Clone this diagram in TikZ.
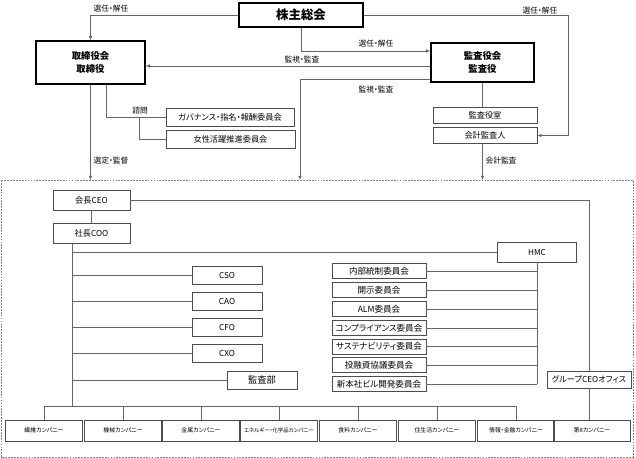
\documentclass[tikz,border=0pt]{standalone}
\usepackage{fontspec}
\newfontfamily\jp[RawFeature=+palt]{Noto Sans CJK JP}
\usetikzlibrary{arrows.meta, positioning, calc}

\begin{document}
\begin{tikzpicture}[x=0.03cm, y=-0.03cm,
  >={Latex[length=3.5pt,width=3pt]},
  line/.style={draw=black!60, line width=0.6pt},
  box/.style={draw=black!70, line width=0.6pt, inner sep=0pt, align=center, font=\jp\fontsize{7}{8}\selectfont},
  bigbox/.style={draw=black, line width=1.2pt, inner sep=0pt, align=center, font=\jp\bfseries\fontsize{8}{10.5}\selectfont},
  lbl/.style={inner sep=0pt, font=\jp\fontsize{6.6}{7}\selectfont},
  cxo/.style={box, minimum width=2.1cm, minimum height=0.54cm},
  iinkai/.style={box, minimum width=2.82cm, minimum height=0.45cm, font=\jp\fontsize{7.3}{8}\selectfont},
  company/.style={box, minimum width=2.31cm, minimum height=0.63cm, font=\jp\fontsize{5}{6}\selectfont}]
\useasboundingbox (0,0) rectangle (636,458);

% Shareholders and boards
\node[bigbox, minimum width=3.72cm, minimum height=0.72cm, font=\jp\bfseries\fontsize{10.6}{12}\selectfont] (kabunushi) at (301,15) {株主総会};
\node[bigbox, minimum width=3.27cm, minimum height=1.29cm] (torishimari) at (90.5,62.5) {取締役会\\取締役};
\node[bigbox, minimum width=3.09cm, minimum height=1.17cm] (kansayaku) at (482.5,62.5) {監査役会\\監査役};
\node[box, minimum width=3.12cm, minimum height=0.48cm] (shitsu) at (485,115) {監査役室};
\node[box, minimum width=3.12cm, minimum height=0.5cm] (kaikei) at (485,135.5) {会計監査人};
\node[box, minimum width=3.84cm, minimum height=0.54cm] (governance) at (230,117) {ガバナンス・指名・報酬委員会};
\node[box, minimum width=3.87cm, minimum height=0.54cm] (josei) at (230.5,139) {女性活躍推進委員会};

% Dashed frame of the executive organisation
\draw[draw=black!50, line width=0.5pt, dash pattern=on 1.5pt off 1pt] (1,180) rectangle (633,457);
\coordinate (frametop) at (0,180);

% Connectors between boards
\draw[line, ->] (kabunushi.west) -| (torishimari.north);
\draw[line, ->] (kabunushi.south) |- (kansayaku.west |- 0,51);
\draw[line, ->] (kabunushi.east) -| ($(kaikei.east)+(31,0)$) -- (kaikei.east);
\draw[line, ->] (kansayaku.west |- 0,66) -- (torishimari.east |- 0,66);
\draw[line, ->] (kansayaku.west |- 0,79) -| (frametop -| 300,0);
\draw[line, ->] (torishimari.south) -- (torishimari.south |- frametop);
\draw[line, ->] (kaikei.south -| kansayaku.south) -- (kansayaku.south |- frametop);
\draw[line] (kansayaku.south) -- (kansayaku.south |- shitsu.north);
\draw[line] (torishimari.south -| 106,0) |- (governance.west);
\draw[line] (governance.west -| 139,0) |- (josei.west);

% Connector labels
\node[lbl] (l-sennin1) at (111,9) {選任・解任};
\node[lbl] (l-sennin2) at (376,44) {選任・解任};
\node[lbl] (l-sennin3) at (540,11) {選任・解任};
\node[lbl] (l-kanshi1) at (302,60) {監視・監査};
\node[lbl] (l-kanshi2) at (376,90) {監視・監査};
\node[lbl] (l-shimon) at (140,111) {諮問};
\node[lbl] (l-sentei) at (111,161) {選定・監督};
\node[lbl] (l-kaikei) at (501,161) {会計監査};

% Executives
\node[box, minimum width=2.31cm, minimum height=0.6cm] (ceo) at (91.5,200) {会長CEO};
\node[box, minimum width=2.31cm, minimum height=0.58cm] (coo) at (91.5,233.5) {社長COO};
\node[box, minimum width=2.37cm, minimum height=0.6cm] (hmc) at (537,252) {HMC};
\node[cxo] (cso) at (227,275) {CSO};
\node[cxo] (cao) at (227,301) {CAO};
\node[cxo] (cfo) at (227,327) {CFO};
\node[cxo] (cxo) at (227,353.5) {CXO};
\node[cxo, font=\jp\fontsize{7.9}{9}\selectfont] (kansabu) at (262,380) {監査部};
\node[box, minimum width=2.52cm, minimum height=0.51cm] (gceo) at (589,379.5) {グループCEOオフィス};
\coordinate (trunk) at (72,406);

% Committees under HMC
\foreach \name/\y/\txt in {naibu/271/内部統制委員会, kaiji/290/開示委員会, alm/309/ALM委員会,
  compliance/328/コンプライアンス委員会, sustain/346.5/サステナビリティ委員会,
  toyushi/365/投融資協議委員会, shinhonsha/384/新本社ビル開発委員会}
  \node[iinkai] (\name) at (379,\y) {\txt};
\foreach \name in {naibu, kaiji, alm, compliance, sustain, toyushi, shinhonsha}
  \draw[line] (\name.east) -- (\name.east -| hmc.south);
\draw[line] (hmc.south) -- (hmc.south |- shinhonsha.east);

% Companies
\foreach \n/\x/\txt in {1/44/繊維カンパニー, 2/123/機械カンパニー, 3/201/金属カンパニー,
  5/358/食料カンパニー, 6/437/住生活カンパニー, 7/516/情報・金融カンパニー, 8/592/第8カンパニー}
  \node[company] (comp\n) at (\x,430.5) {\txt};
\node[company, font=\jp\fontsize{4.6}{5}\selectfont] (comp4) at (279,430.5) {エネルギー・化学品カンパニー};

% Executive lines
\draw[line] (ceo.south) -- (coo.north);
\draw[line] (ceo.east) -| (gceo.north);
\draw[line] (gceo.south) -- (gceo.south |- comp8.north);
\draw[line] (coo.south -| trunk) -- (trunk);
\foreach \name in {hmc, cso, cao, cfo, cxo, kansabu}
  \draw[line] (\name.west) -- (\name.west -| trunk);
\draw[line] (comp1.north |- trunk) -- (comp7.north |- trunk);
\foreach \n in {1,...,7}
  \draw[line] (comp\n.north) -- (comp\n.north |- trunk);
\end{tikzpicture}
\end{document}
